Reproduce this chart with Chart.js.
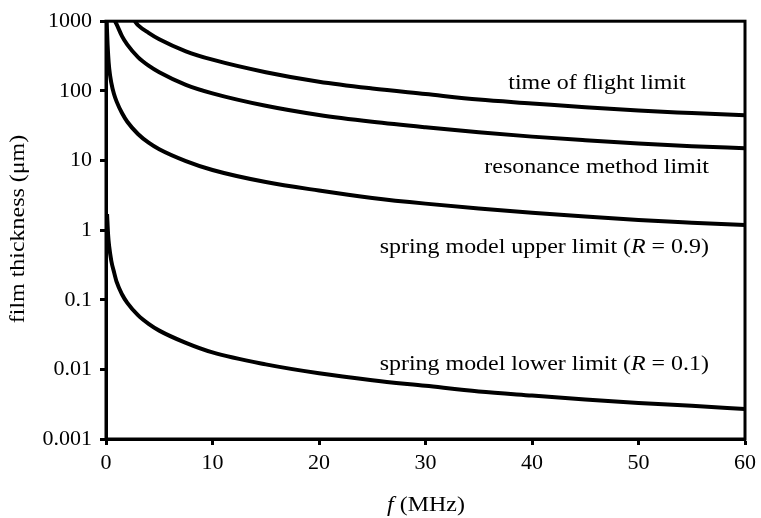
<!DOCTYPE html>
<html>
<head>
<meta charset="utf-8">
<script src="https://cdn.jsdelivr.net/npm/chart.js@4"></script>
<style>
html,body{margin:0;padding:0;background:#fff;}
#wrap{width:761px;height:518px;position:relative;}
</style>
</head>
<body>
<div id="wrap"><canvas id="c" width="761" height="518"></canvas></div>
<script>
// Frequencies (MHz) and read-off film thickness values (µm)
const tofF   = [2.7, 3, 4, 5, 7.5, 10, 15, 20, 25, 30, 35, 40, 45, 50, 55, 60];
const tofV   = [1000, 880, 680, 550, 370, 280, 185, 135, 108, 90, 75, 66, 58, 52, 48, 44.5];

const resF   = [0.85, 1, 1.5, 2, 3, 4, 5, 7.5, 10, 15, 20, 25, 30, 35, 40, 45, 50, 55, 60];
const resV   = [1000, 900, 610, 460, 305, 230, 185, 122, 92, 61, 45, 36, 30, 25.5, 22, 19.5, 17.5, 16, 15];

const upF    = [0.07, 0.1, 0.2, 0.3, 0.5, 0.75, 1, 1.5, 2, 3, 4, 5, 7.5, 10, 15, 20, 25, 30, 35, 40, 45, 50, 55, 60];
const upV    = [1000, 700, 330, 210, 130, 90, 70, 48, 36, 24, 18, 14.5, 9.8, 7.3, 4.9, 3.7, 2.9, 2.4, 2.05, 1.78, 1.57, 1.4, 1.28, 1.18];

const lowF   = [0.1, 0.2, 0.3, 0.5, 0.75, 1, 1.5, 2, 3, 4, 5, 7.5, 10, 15, 20, 25, 30, 35, 40, 45, 50, 55, 60];
const lowV   = [1.7, 0.85, 0.58, 0.36, 0.25, 0.18, 0.12, 0.09, 0.06, 0.045, 0.036, 0.024, 0.0175, 0.0118, 0.0088, 0.007, 0.0058, 0.0048, 0.0042, 0.0037, 0.0033, 0.003, 0.0027];

const yTickValues = [0.001, 0.01, 0.1, 1, 10, 100, 1000];
const yTickLabels = ['0.001', '0.01', '0.1', '1', '10', '100', '1000'];
const xTickLabels = ['0', '10', '20', '30', '40', '50', '60'];

const seriesNames = ['time of flight limit', 'resonance method limit',
  'spring model upper limit (R = 0.9)', 'spring model lower limit (R = 0.1)'];

const FONT = '"Liberation Serif"';
const STRETCH = 1.14;

function pts(fs, vs){ return fs.map((f,i)=>({x:f, y:vs[i]})); }

function ds(label, fs, vs){
  return {label, data: pts(fs, vs), borderColor:'#000', borderWidth:4,
    pointRadius:0, fill:false, cubicInterpolationMode:'monotone', tension:0.4};
}

// In-plot labels; italic parts marked
const annotations = [
  {parts:[['time of flight limit',false]], anchor:'center', x:597, base:89},
  {parts:[['resonance method limit',false]], anchor:'right', x:709, base:173},
  {parts:[['spring model upper limit (',false],['R',true],[' = 0.9)',false]], anchor:'right', x:709, base:253},
  {parts:[['spring model lower limit (',false],['R',true],[' = 0.1)',false]], anchor:'right', x:709, base:370}
];

function drawParts(ctx, parts, x0, base){
  let x = x0;
  parts.forEach(p=>{
    ctx.font = (p[1]?'italic ':'') + '21px ' + FONT;
    ctx.fillText(p[0], x, base);
    x += ctx.measureText(p[0]).width;
  });
}
function partsWidth(ctx, parts){
  return parts.reduce((s,p)=>{ ctx.font = (p[1]?'italic ':'') + '21px ' + FONT; return s + ctx.measureText(p[0]).width; }, 0);
}

const decor = {
  id:'decor',
  afterDraw(chart){
    const ctx = chart.ctx, a = chart.chartArea;
    ctx.save();
    ctx.strokeStyle = '#000';
    ctx.lineWidth = 3;
    ctx.strokeRect(a.left, a.top, a.right - a.left, a.bottom - a.top);
    ctx.fillStyle = '#000';
    ctx.textBaseline = 'alphabetic';
    ctx.textAlign = 'left';
    annotations.forEach(an=>{
      const w = partsWidth(ctx, an.parts) * STRETCH;
      const left = an.anchor === 'center' ? an.x - w/2 : an.x - w;
      ctx.save();
      ctx.translate(left, 0);
      ctx.scale(STRETCH, 1);
      drawParts(ctx, an.parts, 0, an.base);
      ctx.restore();
    });
    const xt = [['f',true],[' (MHz)',false]];
    const wx = partsWidth(ctx, xt) * STRETCH;
    ctx.save();
    ctx.translate(426 - wx/2, 0);
    ctx.scale(STRETCH, 1);
    drawParts(ctx, xt, 0, 511);
    ctx.restore();
    const yt = [['film thickness (\u03bcm)',false]];
    const wy = partsWidth(ctx, yt) * STRETCH;
    ctx.save();
    ctx.translate(24, 229 + wy/2);
    ctx.rotate(-Math.PI/2);
    ctx.scale(STRETCH, 1);
    drawParts(ctx, yt, 0, 0);
    ctx.restore();
    ctx.restore();
  }
};

new Chart(document.getElementById('c'), {
  type:'line',
  data:{ datasets:[
    ds(seriesNames[0], tofF, tofV),
    ds(seriesNames[1], resF, resV),
    ds(seriesNames[2], upF, upV),
    ds(seriesNames[3], lowF, lowV)
  ]},
  options:{
    responsive:false, animation:false, devicePixelRatio:1,
    layout:{padding:{top:20, right:12, left:0, bottom:0}},
    plugins:{legend:{display:false}, tooltip:{enabled:false}},
    scales:{
      x:{ type:'linear', min:0, max:60,
        border:{display:true, color:'#000', width:3},
        grid:{display:true, drawOnChartArea:false, drawTicks:true, tickLength:6, tickWidth:3, color:'#000'},
        ticks:{stepSize:10, color:'#000', padding:5, maxRotation:0,
          font:{family:FONT, size:22},
          callback:(v)=>{ const i = v/10; return Number.isInteger(i) ? xTickLabels[i] : ''; }},
        afterFit(s){ s.height = 79; }
      },
      y:{ type:'logarithmic', min:0.001, max:1000,
        border:{display:true, color:'#000', width:3},
        grid:{display:true, drawOnChartArea:false, drawTicks:true, tickLength:6, tickWidth:3, color:'#000'},
        afterBuildTicks(s){ s.ticks = yTickValues.map(v=>({value:v})); },
        ticks:{color:'#000', padding:8, font:{family:FONT, size:22},
          callback:(v)=>{ const i = yTickValues.findIndex(t=>Math.abs(Math.log10(t)-Math.log10(v))<1e-6); return i>=0 ? yTickLabels[i] : ''; }},
        afterFit(s){ s.width = 106; }
      }
    }
  },
  plugins:[decor]
});
</script>
</body>
</html>
